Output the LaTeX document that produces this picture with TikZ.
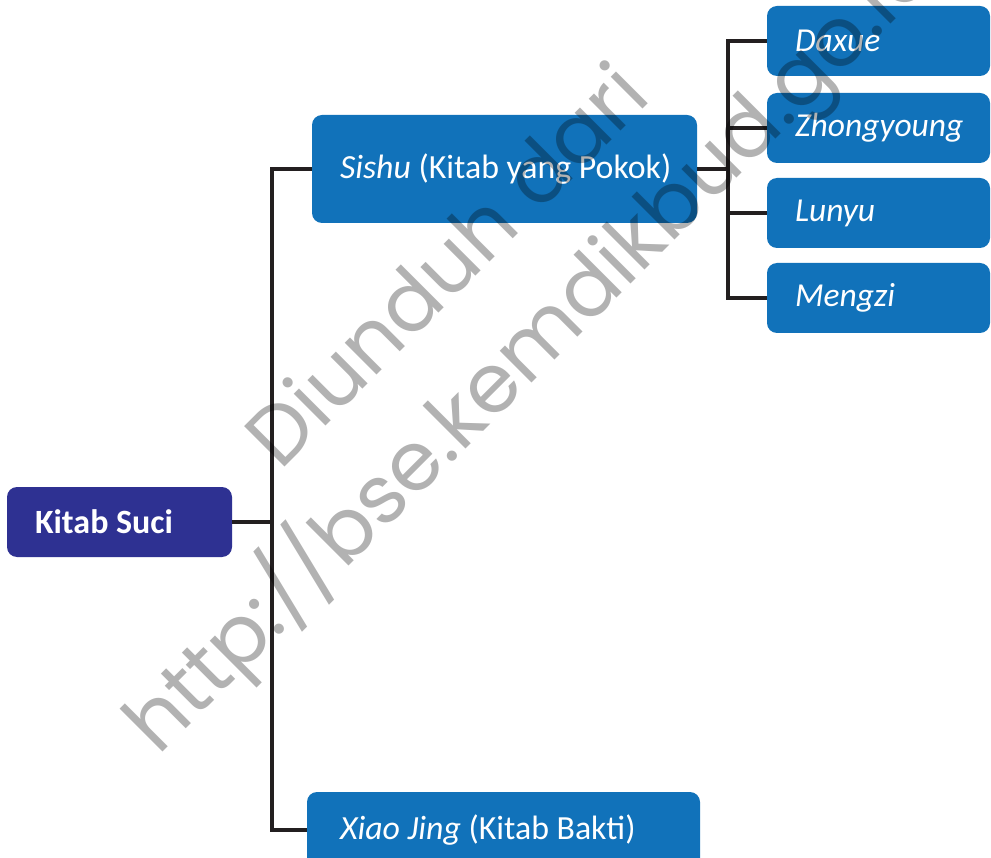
\documentclass[tikz,border=0pt]{standalone}
\usepackage{fontspec}
\setmainfont{Carlito}
\newfontfamily\wmfont{Poppins}
\definecolor{navy}{HTML}{2E3192}
\definecolor{boxblue}{HTML}{1172BA}
\definecolor{linec}{HTML}{231F20}
\newcommand{\lefttext}[2]{\makebox[#1][l]{#2}}
\begin{document}
\begin{tikzpicture}[x=1pt,y=-1pt,
  box/.style={fill=boxblue, rounded corners=10pt, text=white, inner ysep=0pt,
    inner xsep=28pt, anchor=center},
  rootbox/.style={box, fill=navy, font=\fontsize{34}{36}\selectfont\bfseries},
  midbox/.style={box, font=\fontsize{33.8}{40}\selectfont},
  leafbox/.style={box, font=\fontsize{33.5}{36}\selectfont\itshape},
  link/.style={draw=linec, line width=4pt},
  wm/.style={text=black, text opacity=0.3, inner sep=0pt, anchor=base west,
    rotate=45, font=\wmfont\fontsize{82}{82}\selectfont}]
\useasboundingbox (0,0) rectangle (991,858);
\clip (0,0) rectangle (991,858);
\fill[white] (0,0) rectangle (991,858);

\node[rootbox, minimum width=225pt, minimum height=70pt] (suci) at (119.5,522) {\lefttext{169pt}{Kitab Suci}};
\node[midbox, minimum width=385pt, minimum height=108pt] (sishu) at (504.5,169) {\lefttext{329pt}{\textit{Sishu} (Kitab yang Pokok)}};
\node[midbox, minimum width=393pt, minimum height=76pt, inner xsep=33pt] (xiao) at (503.5,830) {\lefttext{327pt}{\textit{Xiao Jing} (Kitab Bakti)}};
\node[leafbox, minimum width=223pt, minimum height=70pt] (daxue) at (878.5,41) {\lefttext{167pt}{Daxue}};
\node[leafbox, minimum width=223pt, minimum height=70pt] (zhong) at (878.5,128) {\lefttext{167pt}{Zhongyoung}};
\node[leafbox, minimum width=223pt, minimum height=70pt] (lunyu) at (878.5,213) {\lefttext{167pt}{Lunyu}};
\node[leafbox, minimum width=223pt, minimum height=70pt] (mengzi) at (878.5,298) {\lefttext{167pt}{Mengzi}};

\draw[link] (suci.east) -- ++(40,0) coordinate (j1);
\draw[link] (sishu.west) -| (j1);
\draw[link] (xiao.west) -| (j1);
\draw[link] (sishu.east) -- ++(31,0) coordinate (j2);
\draw[link] (daxue.west) -| (j2);
\draw[link] (zhong.west) -| (j2);
\draw[link] (lunyu.west) -| (j2);
\draw[link] (mengzi.west) -| (j2);

\node[wm] (wm1) at (280,472) {Diunduh dari};
\node[wm] (wm2) at (158,757) {http://bse.kemdikbud.go.id};
\end{tikzpicture}
\end{document}
